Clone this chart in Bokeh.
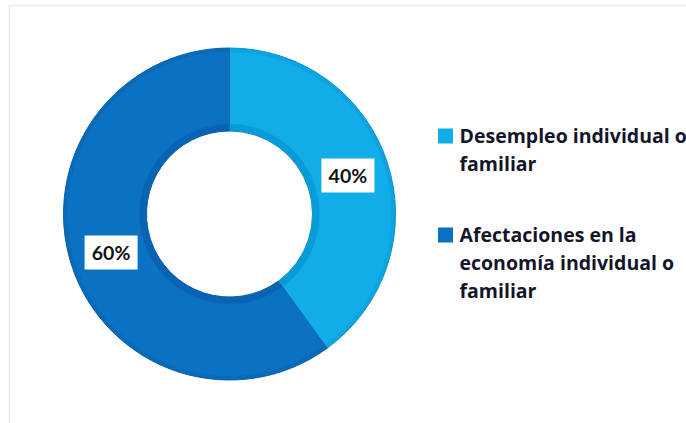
import numpy as np
from bokeh.plotting import figure
from bokeh.models import Range1d, ColumnDataSource
from bokeh.core.properties import value
from bokeh.embed import file_html
from bokeh.resources import INLINE

# ---- data ----
categories = ["Desempleo individual o\nfamiliar",
              "Afectaciones en la\neconomía individual o\nfamiliar"]
shares = [40, 60]
pct_labels = ["40%", "60%"]
colors = ["#11ADE8", "#0B71C2"]
shade_colors = ["#0896D3", "#0862AE"]

W, H = 686, 423
p = figure(width=W, height=H, output_backend="svg", toolbar_location=None,
           x_range=Range1d(0, W), y_range=Range1d(0, H), min_border=0,
           background_fill_color="white", border_fill_color="white")
p.axis.visible = False
p.grid.visible = False
p.outline_line_color = None

# frame lines (top and left)
p.segment(x0=[9, 9], y0=[418, 418], x1=[W, 9], y1=[418, 0],
          line_color="#E9E9E9", line_width=1.5)

cx, cy = 229, 209.5
r_in, r_out = 83, 166

frac = np.array(shares, dtype=float) / sum(shares)
cum = np.cumsum(frac)
ends = np.radians(90 - (cum - frac) * 360)
starts = np.radians(90 - cum * 360)

src = ColumnDataSource(dict(start=starts, end=ends, color=colors, shade=shade_colors))
p.annular_wedge(x=cx, y=cy, inner_radius=r_in, outer_radius=r_out,
                start_angle="start", end_angle="end", fill_color="color",
                line_color="shade", line_width=1, source=src)
# bevel rings
p.annular_wedge(x=cx, y=cy, inner_radius=r_in, outer_radius=r_in + 7,
                start_angle="start", end_angle="end", fill_color="shade",
                line_color=None, fill_alpha=0.8, source=src)
p.annular_wedge(x=cx, y=cy, inner_radius=r_out - 4, outer_radius=r_out,
                start_angle="start", end_angle="end", fill_color="shade",
                line_color=None, fill_alpha=0.4, source=src)

# percentage labels
mid = (starts + ends) / 2
rm = (r_in + r_out) / 2
lx = cx + rm * np.cos(mid)
ly = cy + rm * np.sin(mid)
p.rect(x=lx, y=ly, width=53, height=34, width_units="screen", height_units="screen",
       fill_color="white", line_color=None)
p.text(x=lx, y=ly, text=pct_labels, text_font=value("Lato"), text_font_style="bold",
       text_font_size="19.5px", text_color="#111111", text_align="center",
       text_baseline="middle")

# legend
sq_y = [287.5, 188.5]
first_base = [288.5, 189.5]
line_h = 28
for i, lab in enumerate(categories):
    p.scatter(x=[445], y=[sq_y[i]], marker="square", size=15,
              fill_color=colors[i], line_color=None)
    lines = lab.split("\n")
    xs = [459] * len(lines)
    ys = [first_base[i] - k * line_h for k in range(len(lines))]
    p.text(x=xs, y=ys, text=lines, text_font=value("Open Sans"), text_font_style="bold",
           text_font_size="19.5px", text_color="#15152A", text_align="left",
           text_baseline="alphabetic")

open("out.html", "w").write(file_html(p, INLINE))
